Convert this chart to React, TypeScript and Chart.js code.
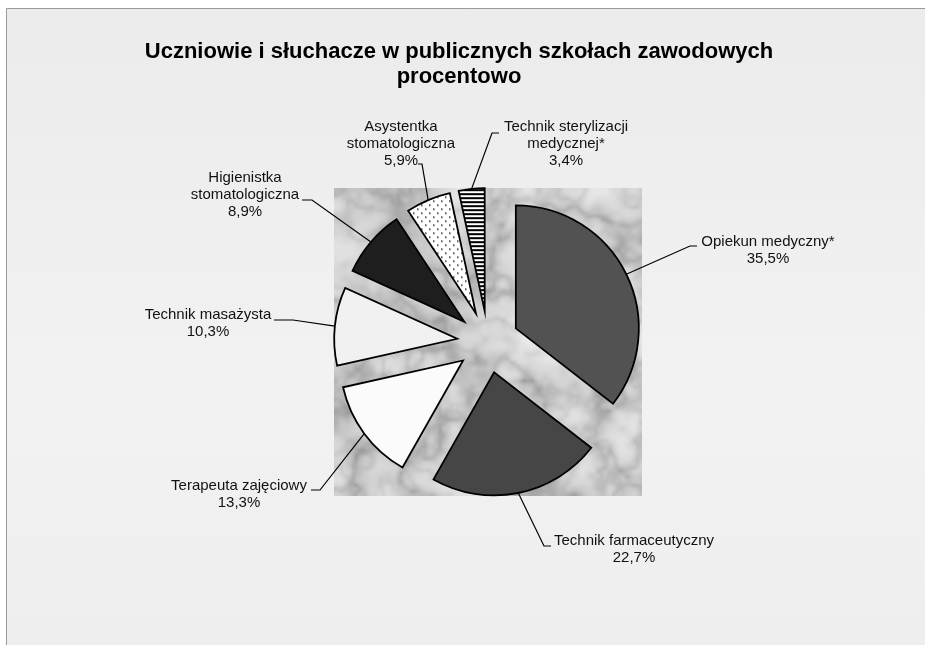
import React, { useEffect, useRef } from 'react';
import { Chart, registerables } from 'chart.js';

Chart.register(...registerables);

// ---------- data ----------
const titleLines = ['Uczniowie i słuchacze w publicznych szkołach zawodowych', 'procentowo'];
const categories = [
  'Opiekun medyczny*',
  'Technik farmaceutyczny',
  'Terapeuta zajęciowy',
  'Technik masażysta',
  'Higienistka stomatologiczna',
  'Asystentka stomatologiczna',
  'Technik sterylizacji medycznej*',
];
const shares = [35.5, 22.7, 13.3, 10.3, 8.9, 5.9, 3.4];

// ---------- layout / style ----------
const W = 925;
const H = 645;
const FRAME_X = 6;
const FRAME_Y = 8;
const EXPLODE = 31;
const RADIUS = 123;
const LINE_H = 17;
const WRAP_W = 165;
const LABEL_FONT = '15px "Liberation Sans", Arial, sans-serif';
const TITLE_FONT = 'bold 22px "Liberation Sans", Arial, sans-serif';
const labelLayout = [
  { x: 768, y: 242, elbow: [690, 246], end: [697, 246] },
  { x: 634, y: 541, elbow: [544, 546], end: [551, 546] },
  { x: 239, y: 486, elbow: [320, 490], end: [311, 490] },
  { x: 208, y: 315, elbow: [293, 320], end: [274, 320] },
  { x: 245, y: 178, elbow: [312, 200], end: [302, 200] },
  { x: 401, y: 127, elbow: [422, 164], end: [418, 164] },
  { x: 566, y: 127, elbow: [492, 133], end: [499, 133] },
];

// ---------- helpers ----------
function hash(x: number, y: number, seed: number) {
  let h = (Math.imul(x, 374761393) + Math.imul(y, 668265263) + Math.imul(seed, 982451653)) | 0;
  h = Math.imul(h ^ (h >>> 13), 1274126177);
  h = h ^ (h >>> 16);
  return (h >>> 0) / 4294967295;
}
function vnoise(x: number, y: number, seed: number) {
  const xi = Math.floor(x), yi = Math.floor(y);
  const xf = x - xi, yf = y - yi;
  const u = xf * xf * (3 - 2 * xf), v = yf * yf * (3 - 2 * yf);
  const a = hash(xi, yi, seed), b = hash(xi + 1, yi, seed);
  const c = hash(xi, yi + 1, seed), d = hash(xi + 1, yi + 1, seed);
  return a + (b - a) * u + (c - a) * v + (a - b - c + d) * u * v;
}
function fbm(x: number, y: number, oct: number, seed: number) {
  let s = 0, amp = 1, tot = 0, f = 1;
  for (let i = 0; i < oct; i++) {
    s += vnoise(x * f, y * f, seed + i * 17) * amp;
    tot += amp;
    amp *= 0.5;
    f *= 2;
  }
  return s / tot;
}
function makeMarble(w: number, h: number) {
  const k = 3;
  const sw = Math.ceil(w / k), sh = Math.ceil(h / k);
  const small = document.createElement('canvas');
  small.width = sw;
  small.height = sh;
  const g = small.getContext('2d')!;
  const img = g.createImageData(sw, sh);
  for (let y = 0; y < sh; y++) {
    for (let x = 0; x < sw; x++) {
      const n = fbm(x / 22, y / 22, 4, 3);
      const m = fbm(x / 16 + 7, y / 16 + 3, 4, 11);
      const m2 = fbm(x / 10 + 2, y / 10 + 9, 3, 29);
      const ridge = 1 - Math.abs(2 * m - 1);
      const ridge2 = 1 - Math.abs(2 * m2 - 1);
      const vein = Math.pow(ridge, 5) * 0.8 + Math.pow(ridge2, 6) * 0.4;
      let v = 225 + (n - 0.5) * 55 - vein * 55;
      v = Math.max(150, Math.min(244, v));
      const i = (y * sw + x) * 4;
      img.data[i] = img.data[i + 1] = img.data[i + 2] = v;
      img.data[i + 3] = 255;
    }
  }
  g.putImageData(img, 0, 0);
  const big = document.createElement('canvas');
  big.width = w;
  big.height = h;
  const bg = big.getContext('2d')!;
  bg.imageSmoothingEnabled = true;
  (bg as any).imageSmoothingQuality = 'high';
  bg.drawImage(small, 0, 0, w, h);
  return big;
}
function makeDots(ctx: CanvasRenderingContext2D) {
  const c = document.createElement('canvas');
  c.width = 8;
  c.height = 8;
  const g = c.getContext('2d')!;
  g.fillStyle = '#ffffff';
  g.fillRect(0, 0, 8, 8);
  g.fillStyle = '#222222';
  g.fillRect(1, 1, 1.5, 1.5);
  g.fillRect(5, 5, 1.5, 1.5);
  return ctx.createPattern(c, 'repeat')!;
}
function makeStripes(ctx: CanvasRenderingContext2D) {
  const c = document.createElement('canvas');
  c.width = 8;
  c.height = 4;
  const g = c.getContext('2d')!;
  g.fillStyle = '#ffffff';
  g.fillRect(0, 0, 8, 4);
  g.fillStyle = '#000000';
  g.fillRect(0, 0, 8, 2);
  return ctx.createPattern(c, 'repeat')!;
}
function wrap(ctx: CanvasRenderingContext2D, text: string, maxW: number) {
  const words = text.split(' ');
  const lines: string[] = [];
  let cur = '';
  for (const w of words) {
    const t = cur ? cur + ' ' + w : w;
    if (cur && ctx.measureText(t).width > maxW) {
      lines.push(cur);
      cur = w;
    } else cur = t;
  }
  if (cur) lines.push(cur);
  return lines;
}
const pct = (v: number) => v.toFixed(1).replace('.', ',') + '%';

export default function App() {
  const ref = useRef<HTMLCanvasElement>(null);

  useEffect(() => {
    const canvas = ref.current!;
    const ctx0 = canvas.getContext('2d')!;
    const dots = makeDots(ctx0);
    const stripes = makeStripes(ctx0);
    let marble: HTMLCanvasElement | null = null;

    const framePlugin = {
      id: 'frame',
      beforeDraw(chart: any) {
        const ctx = chart.ctx;
        ctx.save();
        const gr = ctx.createLinearGradient(0, FRAME_Y, 0, H);
        gr.addColorStop(0, '#ebebeb');
        gr.addColorStop(0.6, '#f2f2f2');
        gr.addColorStop(1, '#eeeeee');
        ctx.fillStyle = gr;
        ctx.fillRect(FRAME_X, FRAME_Y, W - FRAME_X, H - FRAME_Y);
        ctx.strokeStyle = '#9a9a9a';
        ctx.lineWidth = 1;
        ctx.beginPath();
        ctx.moveTo(FRAME_X + 0.5, H);
        ctx.lineTo(FRAME_X + 0.5, FRAME_Y + 0.5);
        ctx.lineTo(W, FRAME_Y + 0.5);
        ctx.stroke();
        // title
        ctx.fillStyle = '#000';
        ctx.font = TITLE_FONT;
        ctx.textAlign = 'center';
        ctx.textBaseline = 'alphabetic';
        titleLines.forEach((t, i) => ctx.fillText(t, 459, 58 + i * 25));
        ctx.restore();
      },
      beforeDatasetsDraw(chart: any) {
        const a = chart.chartArea;
        const w = Math.round(a.right - a.left), h = Math.round(a.bottom - a.top);
        if (!marble || marble.width !== w || marble.height !== h) marble = makeMarble(w, h);
        chart.ctx.drawImage(marble, a.left, a.top);
      },
      beforeDatasetDraw(chart: any, args: any) {
        const ctx = chart.ctx;
        args.meta.data.forEach((arc: any) => {
          const mid = (arc.startAngle + arc.endAngle) / 2;
          ctx.save();
          ctx.translate(Math.cos(mid) * EXPLODE, Math.sin(mid) * EXPLODE);
          arc.draw(ctx, chart.chartArea);
          ctx.restore();
        });
        return false;
      },
      afterDatasetsDraw(chart: any) {
        const ctx = chart.ctx;
        const meta = chart.getDatasetMeta(0);
        ctx.save();
        ctx.font = LABEL_FONT;
        ctx.fillStyle = '#111';
        ctx.strokeStyle = '#000';
        ctx.lineWidth = 1.2;
        ctx.textAlign = 'center';
        ctx.textBaseline = 'middle';
        meta.data.forEach((arc: any, i: number) => {
          const mid = (arc.startAngle + arc.endAngle) / 2;
          const r = arc.outerRadius + EXPLODE;
          const ax = arc.x + Math.cos(mid) * r;
          const ay = arc.y + Math.sin(mid) * r;
          const L = labelLayout[i];
          ctx.beginPath();
          ctx.moveTo(ax, ay);
          ctx.lineTo(L.elbow[0], L.elbow[1]);
          ctx.lineTo(L.end[0], L.end[1]);
          ctx.stroke();
          const lines = [...wrap(ctx, categories[i], WRAP_W), pct(shares[i])];
          lines.forEach((t, k) => ctx.fillText(t, L.x, L.y + k * LINE_H));
        });
        ctx.restore();
      },
    };

    const chart = new Chart(canvas, {
      type: 'pie',
      data: {
        labels: categories,
        datasets: [
          {
            data: shares,
            backgroundColor: ['#525252', '#464646', '#fbfbfb', '#f1f1f1', '#1e1e1e', dots, stripes],
            borderColor: '#000000',
            borderWidth: 1.8,
            borderJoinStyle: 'miter',
            radius: RADIUS,
          } as any,
        ],
      },
      options: {
        responsive: false,
        animation: false,
        devicePixelRatio: 1,
        events: [],
        layout: { padding: { left: 334, right: W - 642, top: 188, bottom: H - 496 } },
        plugins: {
          legend: { display: false },
          tooltip: { enabled: false },
          title: { display: false },
        },
      },
      plugins: [framePlugin],
    });
    return () => chart.destroy();
  }, []);

  return (
    <div style={{ position: 'absolute', left: 0, top: 0, width: W, height: H }}>
      <canvas ref={ref} width={W} height={H} style={{ display: 'block', width: W, height: H }} />
    </div>
  );
}
